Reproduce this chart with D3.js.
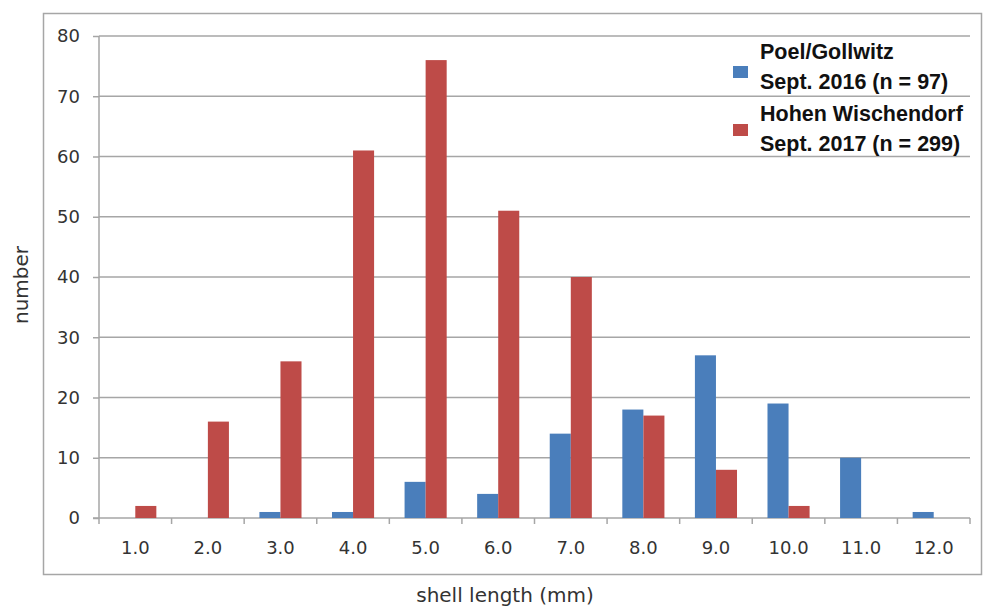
<!DOCTYPE html>
<html>
<head>
<meta charset="utf-8">
<script src="https://cdn.jsdelivr.net/npm/d3@7"></script>
<style>
  body { margin: 0; background: #fff; }
  svg { display: block; }
</style>
</head>
<body>
<script>
// categories (shell length bins) and counts per site
var categories = ["1.0", "2.0", "3.0", "4.0", "5.0", "6.0", "7.0", "8.0", "9.0", "10.0", "11.0", "12.0"];
var poelValues = [0, 0, 1, 1, 6, 4, 14, 18, 27, 19, 10, 1];
var hohenValues = [2, 16, 26, 61, 76, 51, 40, 17, 8, 2, 0, 0];
var seriesNames = ["poel", "hohen"];
var legendLines = [
  ["Poel/Gollwitz", "Sept. 2016 (n = 97)"],
  ["Hohen Wischendorf", "Sept. 2017 (n = 299)"]
];
var yTicks = [0, 10, 20, 30, 40, 50, 60, 70, 80];

var width = 987;
var height = 608;
var plotLeft = 99, plotRight = 970, plotTop = 36, plotBottom = 518;
var colors = { poel: "#4a7ebb", hohen: "#be4b48" };
var gridColor = "#a6a6a6";

var svg = d3.select("body")
  .append("svg")
  .attr("width", width)
  .attr("height", height);

// outer chart border
svg.append("rect")
  .attr("x", 43.5)
  .attr("y", 13.5)
  .attr("width", 938)
  .attr("height", 561)
  .attr("fill", "#fff")
  .attr("stroke", gridColor)
  .attr("stroke-width", 1.5);

var x0 = d3.scaleBand().domain(categories).range([plotLeft, plotRight]);
var x1 = d3.scaleBand().domain(seriesNames)
  .range([x0.bandwidth() * 0.21, x0.bandwidth() * 0.79]);
var y = d3.scaleLinear().domain([0, 80]).range([plotBottom, plotTop]);

// gridlines
svg.append("g")
  .selectAll("line")
  .data(yTicks.filter(function(d) { return d > 0; }))
  .join("line")
  .attr("x1", plotLeft)
  .attr("x2", plotRight)
  .attr("y1", function(d) { return y(d); })
  .attr("y2", function(d) { return y(d); })
  .attr("stroke", gridColor)
  .attr("stroke-width", 1.5);

// y axis
var yAxis = svg.append("g")
  .attr("transform", "translate(" + plotLeft + ",0)")
  .call(d3.axisLeft(y).tickValues(yTicks).tickSize(6).tickPadding(13).tickFormat(d3.format("d")));
yAxis.selectAll("line, path").attr("stroke", gridColor).attr("stroke-width", 1.5);
yAxis.select(".domain").attr("d", "M0," + plotTop + "V" + plotBottom);
yAxis.selectAll("text")
  .attr("font-family", "DejaVu Sans")
  .attr("font-size", 18)
  .attr("fill", "#333");

// x axis with ticks at category boundaries
var xAxis = svg.append("g")
  .attr("transform", "translate(0," + plotBottom + ")");
xAxis.append("line")
  .attr("x1", plotLeft - 6)
  .attr("x2", plotRight)
  .attr("stroke", gridColor)
  .attr("stroke-width", 1.5);
xAxis.selectAll(".tick")
  .data(categories.concat(["end"]))
  .join("line")
  .attr("class", "tick")
  .attr("x1", function(d, i) { return plotLeft + i * x0.step(); })
  .attr("x2", function(d, i) { return plotLeft + i * x0.step(); })
  .attr("y1", 0)
  .attr("y2", 6)
  .attr("stroke", gridColor)
  .attr("stroke-width", 1.5);
xAxis.selectAll("text")
  .data(categories)
  .join("text")
  .attr("x", function(d) { return x0(d) + x0.bandwidth() / 2; })
  .attr("y", 36)
  .attr("text-anchor", "middle")
  .attr("font-family", "DejaVu Sans")
  .attr("font-size", 18)
  .attr("fill", "#333")
  .text(function(d) { return d; });

// bars
var rows = categories.map(function(c, i) {
  return { cat: c, poel: poelValues[i], hohen: hohenValues[i] };
});
var groups = svg.append("g")
  .selectAll("g")
  .data(rows)
  .join("g")
  .attr("transform", function(d) { return "translate(" + x0(d.cat) + ",0)"; });
groups.selectAll("rect")
  .data(function(d) { return seriesNames.map(function(s) { return { key: s, value: d[s] }; }); })
  .join("rect")
  .attr("x", function(d) { return x1(d.key); })
  .attr("y", function(d) { return y(d.value); })
  .attr("width", x1.bandwidth())
  .attr("height", function(d) { return plotBottom - y(d.value); })
  .attr("fill", function(d) { return colors[d.key]; });

// axis titles
svg.append("text")
  .attr("x", 505)
  .attr("y", 602)
  .attr("text-anchor", "middle")
  .attr("font-family", "DejaVu Sans")
  .attr("font-size", 20)
  .attr("fill", "#333")
  .text("shell length (mm)");
svg.append("text")
  .attr("transform", "translate(28,285) rotate(-90)")
  .attr("text-anchor", "middle")
  .attr("font-family", "DejaVu Sans")
  .attr("font-size", 20)
  .attr("fill", "#333")
  .text("number");

// legend
var legend = svg.append("g")
  .selectAll("g")
  .data(seriesNames)
  .join("g");
legend.append("rect")
  .attr("x", 733)
  .attr("y", function(d, i) { return 66 + i * 58; })
  .attr("width", 15)
  .attr("height", 12)
  .attr("fill", function(d) { return colors[d]; });
legend.each(function(d, i) {
  var g = d3.select(this);
  legendLines[i].forEach(function(line, j) {
    g.append("text")
      .attr("x", 760)
      .attr("y", 59 + i * 62 + j * 29.5)
      .attr("font-family", "Liberation Sans")
      .attr("font-weight", "bold")
      .attr("font-size", 21.5)
      .attr("fill", "#111")
      .text(line);
  });
});
</script>
</body>
</html>
